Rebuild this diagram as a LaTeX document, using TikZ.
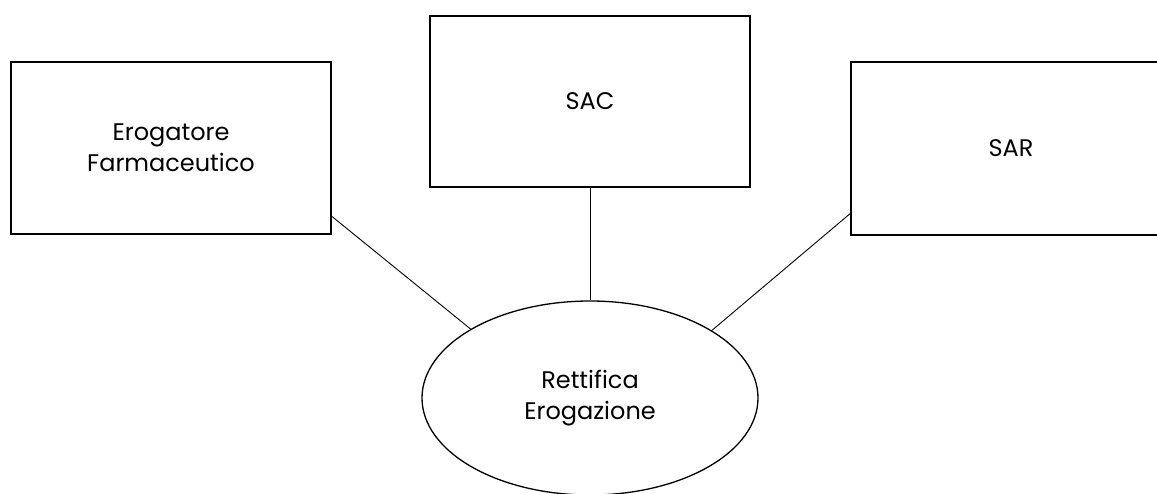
\documentclass[tikz,border=0pt]{standalone}
\usepackage{fontspec}
\setmainfont{Poppins}
\usetikzlibrary{shapes.geometric}
\begin{document}
\begin{tikzpicture}[x=1pt,y=-1pt,
  txt/.style={font=\fontsize{24}{31}\selectfont},
  box/.style={draw,line width=1.3pt,minimum width=320pt,inner sep=0pt,align=center,txt},
  oval/.style={draw,ellipse,line width=1.3pt,minimum width=336pt,minimum height=194pt,inner sep=0pt,align=center,txt},
  link/.style={line width=0.9pt}]
\useasboundingbox (0,0) rectangle (1157,494);
\node[box,minimum height=172pt] (efarm) at (171,148) {Erogatore\\Farmaceutico};
\node[box,minimum height=171pt] (sac) at (590,101.5) {SAC};
\node[box,minimum height=173pt] (sar) at (1011,148.5) {SAR};
\node[oval] (ell) at (590,398) {Rettifica\\Erogazione};
\draw[link] (efarm.-23.6) -- (ell.150.4);
\draw[link] (sac.south) -- (ell.north);
\draw[link] (sar.202.6) -- (ell.29.2);
\end{tikzpicture}
\end{document}
